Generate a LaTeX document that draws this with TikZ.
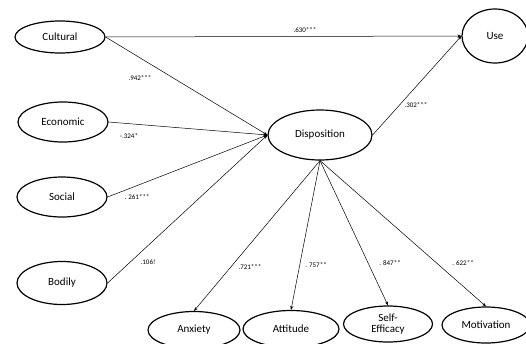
\documentclass[tikz,border=0pt]{standalone}
\usepackage{fontspec}
\setmainfont{Carlito}
\usetikzlibrary{arrows.meta,shapes.geometric}

\begin{document}
\begin{tikzpicture}[
  x=1pt, y=-1pt,
  font=\fontsize{11}{11}\selectfont,
  construct/.style={draw, ellipse, line width=1.2pt, inner sep=0pt, align=center,
                    minimum width=90pt, minimum height=40pt},
  coef/.style={font=\fontsize{7}{8}\selectfont, inner sep=1pt},
  effect/.style={-{Stealth[length=4pt,width=3pt]}, line width=0.5pt}
]
\useasboundingbox (0,0) rectangle (526,343);
% predictors
\node[construct, minimum height=32pt] (cultural) at (60,37) {Cultural};
\node[construct] (economic) at (63,122) {Economic};
\node[construct] (social) at (62,197) {Social};
\node[construct, minimum height=43pt] (bodily) at (62,283) {Bodily};
% mediator and outcome
\node[construct, minimum width=104pt, minimum height=50pt] (disposition) at (320,135) {Disposition};
\node[construct, minimum width=66pt, minimum height=54pt] (use) at (495,36) {Use};
% indicators
\node[construct, minimum width=92pt, minimum height=37pt] (anxiety) at (194,330) {Anxiety};
\node[construct, minimum width=96pt, minimum height=37pt] (attitude) at (291,329) {Attitude};
\node[construct, minimum width=89pt, minimum height=36pt] (selfeff) at (388,324) {Self-\\Efficacy};
\node[construct, minimum width=88pt, minimum height=36pt] (motivation) at (486,325) {Motivation};

\draw[effect] (cultural.east) -- (use.west);
\draw[effect] (cultural.east) -- (disposition.west);
\draw[effect] (economic.east) -- (disposition.west);
\draw[effect] (social.east) -- (disposition.west);
\draw[effect] (bodily.east) -- (disposition.west);
\draw[effect] (disposition.east) -- (use.west);
\draw[effect] (disposition.south) -- (anxiety.north);
\draw[effect] (disposition.south) -- (attitude.north);
\draw[effect] (disposition.south) -- (selfeff.north);
\draw[effect] (disposition.south) -- (motivation.north);

% coefficients
\node[coef] (c630) at (305,30) {.630***};
\node[coef] (c942) at (140,78) {.942***};
\node[coef] (c324) at (129,136) {-.324*};
\node[coef] (c261) at (137,197) {. 261***};
\node[coef] (c106) at (148,262) {.106!};
\node[coef] (c302) at (416,105) {.302***};
\node[coef] (c721) at (250,267) {.721***};
\node[coef] (c757) at (316,265) {. 757**};
\node[coef] (c847) at (390,263) {. 847**};
\node[coef] (c622) at (463,263) {. 622**};
\end{tikzpicture}
\end{document}
